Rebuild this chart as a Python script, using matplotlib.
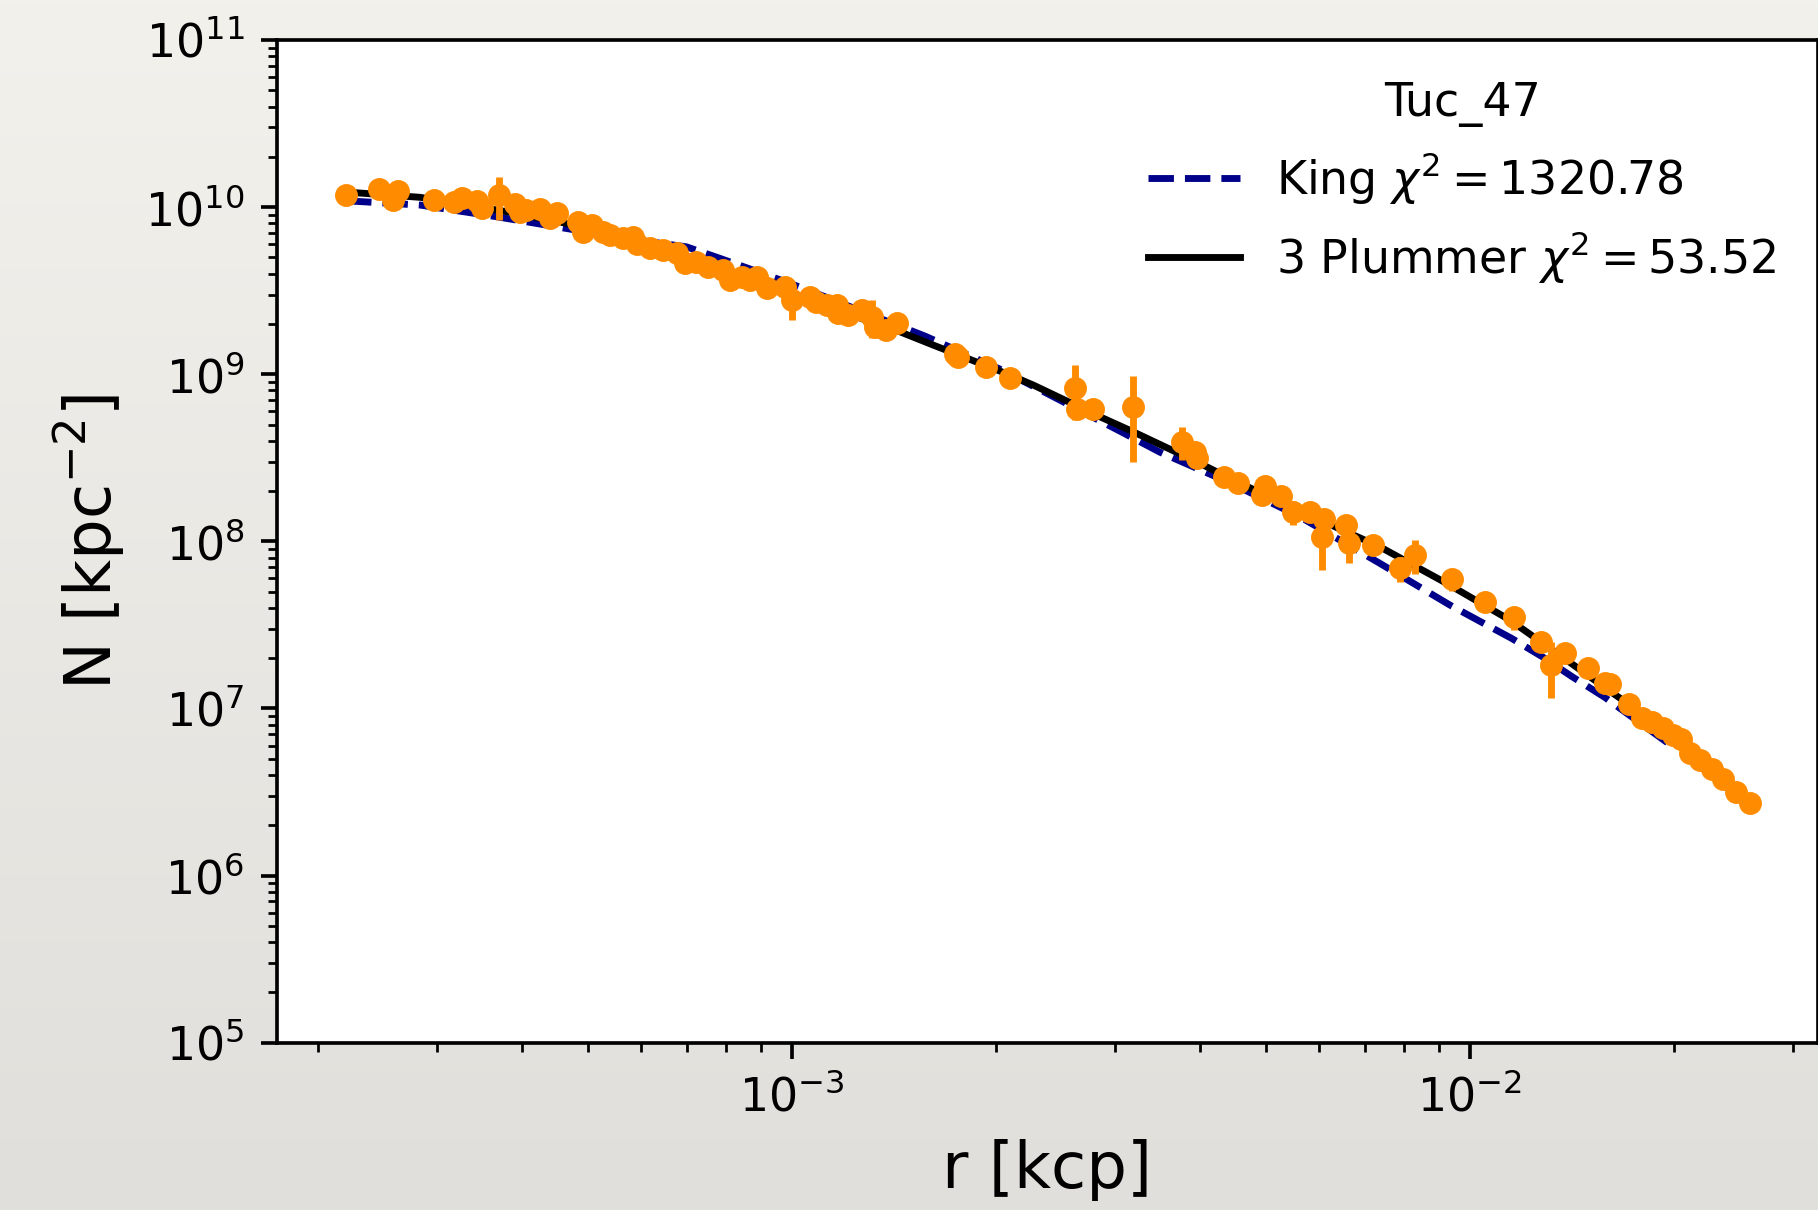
import numpy as np
import matplotlib
matplotlib.use('Agg')
import matplotlib.pyplot as plt
from matplotlib.colors import LinearSegmentedColormap

# Surface density profile of Tuc_47
r_data = [2.20e-4, 2.46e-4, 2.58e-4, 2.62e-4, 2.97e-4, 3.17e-4, 3.26e-4, 3.43e-4, 3.49e-4, 3.70e-4,
          3.90e-4, 3.97e-4, 4.06e-4, 4.25e-4, 4.40e-4, 4.51e-4, 4.84e-4, 4.92e-4, 5.07e-4, 5.27e-4,
          5.39e-4, 5.64e-4, 5.83e-4, 5.90e-4, 6.17e-4, 6.46e-4, 6.76e-4, 6.95e-4, 7.23e-4, 7.53e-4,
          7.92e-4, 8.10e-4, 8.43e-4, 8.67e-4, 8.87e-4, 9.18e-4, 9.76e-4, 1.000e-3, 1.063e-3, 1.087e-3,
          1.125e-3, 1.164e-3, 1.170e-3, 1.211e-3, 1.267e-3, 1.311e-3, 1.326e-3, 1.379e-3, 1.427e-3, 1.740e-3,
          1.759e-3, 1.931e-3, 2.097e-3, 2.615e-3, 2.630e-3, 2.777e-3, 3.186e-3, 3.765e-3, 3.930e-3, 3.953e-3,
          4.336e-3, 4.552e-3, 4.929e-3, 4.984e-3, 5.259e-3, 5.489e-3, 5.808e-3, 6.055e-3, 6.090e-3, 6.578e-3,
          6.637e-3, 7.200e-3, 7.882e-3, 8.295e-3, 9.40e-3, 1.052e-2, 1.161e-2, 1.272e-2, 1.317e-2, 1.384e-2,
          1.495e-2, 1.582e-2, 1.609e-2, 1.716e-2, 1.795e-2, 1.857e-2, 1.928e-2, 1.994e-2, 2.052e-2, 2.111e-2,
          2.189e-2, 2.277e-2, 2.363e-2, 2.474e-2, 2.588e-2]
n_data = [1.18e10, 1.28e10, 1.10e10, 1.25e10, 1.11e10, 1.08e10, 1.13e10, 1.09e10, 9.83e9, 1.18e10,
          1.05e10, 9.39e9, 9.61e9, 9.70e9, 8.57e9, 9.18e9, 8.18e9, 7.13e9, 7.82e9, 7.13e9,
          6.81e9, 6.51e9, 6.65e9, 6.01e9, 5.67e9, 5.54e9, 5.29e9, 4.61e9, 4.71e9, 4.40e9,
          4.20e9, 3.66e9, 3.83e9, 3.66e9, 3.83e9, 3.27e9, 3.34e9, 2.78e9, 2.91e9, 2.72e9,
          2.60e9, 2.60e9, 2.31e9, 2.26e9, 2.42e9, 2.21e9, 1.92e9, 1.84e9, 2.02e9, 1.33e9,
          1.27e9, 1.10e9, 9.53e8, 8.30e8, 6.17e8, 6.17e8, 6.39e8, 3.95e8, 3.44e8, 3.14e8,
          2.44e8, 2.22e8, 1.89e8, 2.14e8, 1.87e8, 1.50e8, 1.50e8, 1.065e8, 1.37e8, 1.25e8,
          9.73e7, 9.50e7, 6.90e7, 8.28e7, 5.95e7, 4.35e7, 3.51e7, 2.51e7, 1.82e7, 2.155e7,
          1.74e7, 1.425e7, 1.40e7, 1.06e7, 8.80e6, 8.33e6, 7.60e6, 6.93e6, 6.53e6, 5.43e6,
          4.91e6, 4.32e6, 3.78e6, 3.15e6, 2.71e6]
n_err = [5e8, 0, 0, 0, 0, 0, 0, 0, 0, 3.4e9,
         1.3e9, 0, 0, 0, 0, 1.4e9, 0, 0, 0, 0,
         0, 0, 0, 0, 0, 0, 0, 5e8, 0, 0,
         0, 0, 0, 0, 0, 0, 0, 6.7e8, 0, 0,
         0, 0, 0, 0, 0, 5.7e8, 0, 0, 0, 0,
         0, 0, 0, 3.0e8, 0, 0, 3.4e8, 9e7, 0, 0,
         0, 0, 0, 0, 0, 2.5e7, 0, 3.9e7, 0, 0,
         2.3e7, 0, 1.2e7, 1.9e7, 9e6, 0, 5.5e6, 0, 6.7e6, 0,
         0, 0, 0, 0, 0, 0, 0, 0, 0, 0,
         0, 0, 0, 0, 0]

# King fit
r_king = [2.20e-4, 2.83e-4, 3.67e-4, 4.71e-4, 5.77e-4, 6.99e-4, 7.83e-4, 8.77e-4, 9.93e-4, 1.075e-3,
          1.571e-3, 2.027e-3, 3.046e-3, 3.489e-3, 4.471e-3, 5.614e-3, 7.366e-3, 9.344e-3, 1.031e-2, 1.152e-2,
          1.279e-2, 1.416e-2, 1.582e-2, 1.994e-2]
n_king = [1.092e10, 1.029e10, 8.76e9, 7.39e9, 6.44e9, 5.79e9, 4.94e9, 4.20e9, 3.50e9, 3.10e9,
          1.693e9, 1.074e9, 4.57e8, 3.42e8, 2.20e8, 1.404e8, 7.39e7, 4.16e7, 3.35e7, 2.63e7,
          2.04e7, 1.548e7, 1.165e7, 5.90e6]

# three-component Plummer fit
r_plummer = [2.20e-4, 2.83e-4, 3.80e-4, 4.65e-4, 5.58e-4, 6.84e-4, 8.38e-4, 1.027e-3, 1.260e-3, 1.443e-3,
             1.616e-3, 2.027e-3, 2.270e-3, 2.846e-3, 3.186e-3, 3.998e-3, 4.476e-3, 5.614e-3, 7.366e-3, 9.24e-3,
             1.146e-2, 1.389e-2, 1.627e-2, 1.994e-2, 2.285e-2, 2.588e-2]
n_plummer = [1.231e10, 1.145e10, 9.39e9, 8.00e9, 6.72e9, 5.24e9, 3.92e9, 2.90e9, 2.17e9, 1.796e9,
             1.495e9, 1.045e9, 8.62e8, 5.57e8, 4.53e8, 2.93e8, 2.33e8, 1.518e8, 9.28e7, 5.61e7,
             3.38e7, 1.949e7, 1.231e7, 6.93e6, 4.28e6, 2.83e6]

chi2_king = 1320.78
chi2_plummer = 53.52

fig = plt.figure(figsize=(1819 / 330, 1210 / 330), dpi=330)

# paper backdrop
bg = fig.add_axes([0, 0, 1, 1], zorder=-1)
paper = LinearSegmentedColormap.from_list('paper', ['#e1dfdb', '#f3f1ec'])
bg.imshow(np.linspace(0, 1, 256).reshape(-1, 1), cmap=paper, aspect='auto',
          extent=(0, 1, 0, 1), origin='lower')
bg.axis('off')

ax = fig.add_axes([0.1521, 0.1383, 0.8472, 0.8286])
ax.plot(r_king, n_king, '--', color='darkblue', label=r'King $\chi^2 = %.2f$' % chi2_king)
ax.plot(r_plummer, n_plummer, '-', color='black', label=r'3 Plummer $\chi^2 = %.2f$' % chi2_plummer)
ax.errorbar(r_data, n_data, yerr=n_err, fmt='o', color='darkorange', markersize=4)

ax.set_xscale('log')
ax.set_yscale('log')
ax.set_xlim(1.738e-4, 3.26e-2)
ax.set_ylim(1e5, 1e11)
ax.set_xlabel('r [kcp]', fontsize=14)
ax.set_ylabel(r'N [kpc$^{-2}$]', fontsize=14)
ax.legend(title='Tuc_47', frameon=False, loc='upper right')

fig.savefig('out.png', dpi=330)
